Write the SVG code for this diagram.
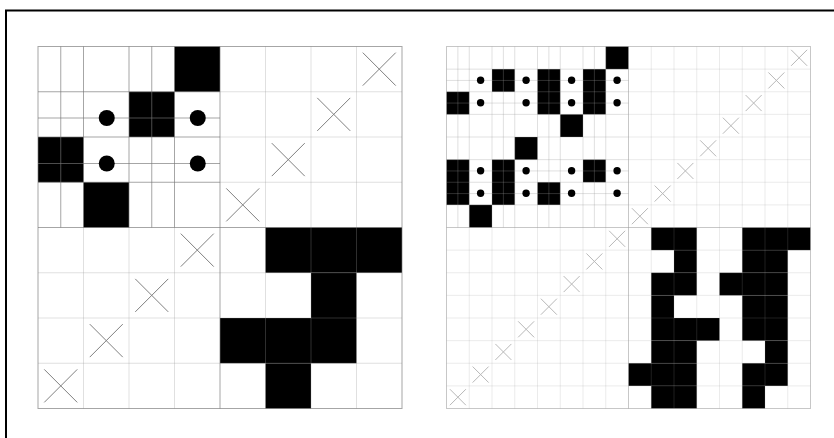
<svg xmlns="http://www.w3.org/2000/svg" xmlns:xlink="http://www.w3.org/1999/xlink" width="834" height="438" viewBox="0 0 834 438">
<style>
.blk{fill:#000}
.lm{fill:none;stroke:#777;stroke-opacity:0.65;stroke-width:1}
.ll{fill:none;stroke:#999;stroke-opacity:0.3;stroke-width:1}
.rb{fill:none;stroke:#999;stroke-opacity:0.55;stroke-width:1}
.rm{fill:none;stroke:#999;stroke-opacity:0.3;stroke-width:1}
.rl{fill:none;stroke:#999;stroke-opacity:0.2;stroke-width:1}
.xl{fill:none;stroke:#808080;stroke-width:1}
.xr{fill:none;stroke:#b8b8b8;stroke-width:1}
.dot{fill:#000}
</style>
<defs>
<path id="xL" d="M-16.5,-16.5L16.5,16.5M16.5,-16.5L-16.5,16.5"/>
<path id="xR" d="M-8,-8L8,8M8,-8L-8,8"/>
</defs>
<rect x="0" y="0" width="834" height="438" fill="#fff"/>
<rect id="frame" x="6" y="10.5" width="900" height="500" fill="none" stroke="#000" stroke-width="2"/>

<g id="left-matrix">
<g id="left-cells">
<rect class="blk" x="174.5" y="46.5" width="45.5" height="45.25"/>
<rect class="blk" x="129" y="91.75" width="45.5" height="45.25"/>
<rect class="blk" x="38" y="137" width="45.5" height="45.25"/>
<rect class="blk" x="83.5" y="182.25" width="45.5" height="45.25"/>
<rect class="blk" x="265.5" y="227.5" width="136.5" height="45.25"/>
<rect class="blk" x="311" y="272.75" width="45.5" height="45.25"/>
<rect class="blk" x="220" y="318" width="136.5" height="45.25"/>
<rect class="blk" x="265.5" y="363.25" width="45.5" height="45.25"/>
</g>
<g id="left-grid">
<path class="ll" d="M83.5 227.5V408.5M129 227.5V408.5M174.5 227.5V408.5M265.5 46.5V408.5M311 46.5V408.5M356.5 46.5V408.5M220 91.75H402M220 137H402M220 182.25H402M38 272.75H402M38 318H402M38 363.25H402"/>
<path class="lm" d="M83.5 46.5V227.5M129 46.5V227.5M174.5 46.5V227.5M38 91.75H220M38 137H220M38 182.25H220"/>
<path class="lm" d="M60.75 46.5V227.5M151.75 46.5V227.5M38 118H220M38 163.5H220"/>
<path class="lm" d="M220 46.5V408.5M38 227.5H402"/>
<rect class="lm" x="38" y="46.5" width="364" height="362"/>
</g>
<g id="left-dots">
<circle class="dot" cx="106.75" cy="118" r="8"/>
<circle class="dot" cx="197.75" cy="118" r="8"/>
<circle class="dot" cx="106.75" cy="163.5" r="8"/>
<circle class="dot" cx="197.75" cy="163.5" r="8"/>
</g>
<g id="left-crosses" class="xl">
<use xlink:href="#xL" x="379.25" y="69.125"/>
<use xlink:href="#xL" x="333.75" y="114.375"/>
<use xlink:href="#xL" x="288.25" y="159.625"/>
<use xlink:href="#xL" x="242.75" y="204.875"/>
<use xlink:href="#xL" x="197.25" y="250.125"/>
<use xlink:href="#xL" x="151.75" y="295.375"/>
<use xlink:href="#xL" x="106.25" y="340.625"/>
<use xlink:href="#xL" x="60.75" y="385.875"/>
</g>
</g>

<g id="right-matrix">
<g id="right-cells">
<rect class="blk" x="605.75" y="46.5" width="22.75" height="22.625"/>
<rect class="blk" x="492" y="69.125" width="22.75" height="22.625"/>
<rect class="blk" x="537.5" y="69.125" width="22.75" height="45.25"/>
<rect class="blk" x="583" y="69.125" width="22.75" height="45.25"/>
<rect class="blk" x="446.5" y="91.75" width="22.75" height="22.625"/>
<rect class="blk" x="560.25" y="114.375" width="22.75" height="22.625"/>
<rect class="blk" x="514.75" y="137" width="22.75" height="22.625"/>
<rect class="blk" x="446.5" y="159.625" width="22.75" height="45.25"/>
<rect class="blk" x="492" y="159.625" width="22.75" height="45.25"/>
<rect class="blk" x="583" y="159.625" width="22.75" height="22.625"/>
<rect class="blk" x="537.5" y="182.25" width="22.75" height="22.625"/>
<rect class="blk" x="469.25" y="204.875" width="22.75" height="22.625"/>
<rect class="blk" x="651.25" y="227.5" width="45.5" height="22.625"/>
<rect class="blk" x="742.25" y="227.5" width="68.25" height="22.625"/>
<rect class="blk" x="674" y="250.125" width="22.75" height="22.625"/>
<rect class="blk" x="742.25" y="250.125" width="45.5" height="22.625"/>
<rect class="blk" x="651.25" y="272.75" width="45.5" height="22.625"/>
<rect class="blk" x="719.5" y="272.75" width="68.25" height="22.625"/>
<rect class="blk" x="651.25" y="295.375" width="22.75" height="22.625"/>
<rect class="blk" x="742.25" y="295.375" width="45.5" height="22.625"/>
<rect class="blk" x="651.25" y="318" width="68.25" height="22.625"/>
<rect class="blk" x="742.25" y="318" width="45.5" height="22.625"/>
<rect class="blk" x="651.25" y="340.625" width="45.5" height="22.625"/>
<rect class="blk" x="765" y="340.625" width="22.75" height="22.625"/>
<rect class="blk" x="628.5" y="363.25" width="68.25" height="22.625"/>
<rect class="blk" x="742.25" y="363.25" width="45.5" height="22.625"/>
<rect class="blk" x="651.25" y="385.875" width="45.5" height="22.625"/>
<rect class="blk" x="742.25" y="385.875" width="22.75" height="22.625"/>
</g>
<g id="right-grid">
<path class="rl" d="M469.25 227.5V408.5M492 227.5V408.5M514.75 227.5V408.5M537.5 227.5V408.5M560.25 227.5V408.5M583 227.5V408.5M605.75 227.5V408.5M651.25 46.5V408.5M674 46.5V408.5M696.75 46.5V408.5M719.5 46.5V408.5M742.25 46.5V408.5M765 46.5V408.5M787.75 46.5V408.5M628.5 69.125H810.5M628.5 91.75H810.5M628.5 114.375H810.5M628.5 137H810.5M628.5 159.625H810.5M628.5 182.25H810.5M628.5 204.875H810.5M446.5 250.125H810.5M446.5 272.75H810.5M446.5 295.375H810.5M446.5 318H810.5M446.5 340.625H810.5M446.5 363.25H810.5M446.5 385.875H810.5"/>
<path class="rm" d="M469.25 46.5V227.5M492 46.5V227.5M514.75 46.5V227.5M537.5 46.5V227.5M560.25 46.5V227.5M583 46.5V227.5M605.75 46.5V227.5M446.5 69.125H628.5M446.5 91.75H628.5M446.5 114.375H628.5M446.5 137H628.5M446.5 159.625H628.5M446.5 182.25H628.5M446.5 204.875H628.5"/>
<path class="rm" d="M457.875 46.5V227.5M503.375 46.5V227.5M548.875 46.5V227.5M594.375 46.5V227.5M446.5 80.4375H628.5M446.5 103.0625H628.5M446.5 170.9375H628.5M446.5 193.5625H628.5"/>
<path class="rb" d="M628.5 46.5V408.5M446.5 227.5H810.5"/>
<rect class="rb" x="446.5" y="46.5" width="364" height="362"/>
</g>
<g id="right-dots">
<circle class="dot" cx="480.6" cy="80.2" r="3.7"/>
<circle class="dot" cx="526.1" cy="80.2" r="3.7"/>
<circle class="dot" cx="571.6" cy="80.2" r="3.7"/>
<circle class="dot" cx="617.1" cy="80.2" r="3.7"/>
<circle class="dot" cx="480.6" cy="102.8" r="3.7"/>
<circle class="dot" cx="526.1" cy="102.8" r="3.7"/>
<circle class="dot" cx="571.6" cy="102.8" r="3.7"/>
<circle class="dot" cx="617.1" cy="102.8" r="3.7"/>
<circle class="dot" cx="480.6" cy="170.7" r="3.7"/>
<circle class="dot" cx="526.1" cy="170.7" r="3.7"/>
<circle class="dot" cx="571.6" cy="170.7" r="3.7"/>
<circle class="dot" cx="617.1" cy="170.7" r="3.7"/>
<circle class="dot" cx="480.6" cy="193.3" r="3.7"/>
<circle class="dot" cx="526.1" cy="193.3" r="3.7"/>
<circle class="dot" cx="571.6" cy="193.3" r="3.7"/>
<circle class="dot" cx="617.1" cy="193.3" r="3.7"/>
</g>
<g id="right-crosses" class="xr">
<use xlink:href="#xR" x="799.125" y="57.8125"/>
<use xlink:href="#xR" x="776.375" y="80.4375"/>
<use xlink:href="#xR" x="753.625" y="103.0625"/>
<use xlink:href="#xR" x="730.875" y="125.6875"/>
<use xlink:href="#xR" x="708.125" y="148.3125"/>
<use xlink:href="#xR" x="685.375" y="170.9375"/>
<use xlink:href="#xR" x="662.625" y="193.5625"/>
<use xlink:href="#xR" x="639.875" y="216.1875"/>
<use xlink:href="#xR" x="617.125" y="238.8125"/>
<use xlink:href="#xR" x="594.375" y="261.4375"/>
<use xlink:href="#xR" x="571.625" y="284.0625"/>
<use xlink:href="#xR" x="548.875" y="306.6875"/>
<use xlink:href="#xR" x="526.125" y="329.3125"/>
<use xlink:href="#xR" x="503.375" y="351.9375"/>
<use xlink:href="#xR" x="480.625" y="374.5625"/>
<use xlink:href="#xR" x="457.875" y="397.1875"/>
</g>
</g>
</svg>
